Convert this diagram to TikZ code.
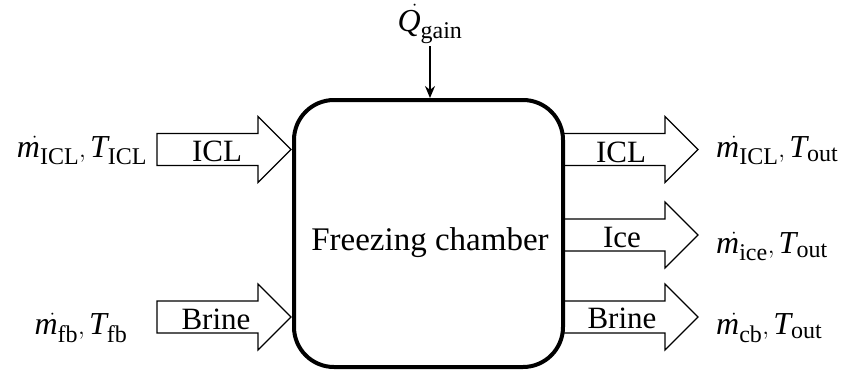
\documentclass[tikz,border=0pt]{standalone}
\usepackage{fontspec}
\setmainfont{Liberation Serif}
\usetikzlibrary{arrows.meta}
% larger subscripts for the stream symbols
\DeclareMathSizes{32}{32}{24}{18}

\tikzset{
  x=1pt, y=-1pt,
  flowline/.style={draw=black, line width=1.2pt, fill=white, line join=miter},
  flowtext/.style={font=\fontsize{31}{31}\selectfont, inner sep=0pt, anchor=base},
  mathlbl/.style={font=\fontsize{32}{32}\selectfont, inner sep=0pt},
  chamber/.style={draw=black, line width=4pt, rounded corners=40pt,
    minimum width=269pt, minimum height=267pt, inner sep=0pt},
  % block arrow: shaft from the local origin, head ending #1 to the right
  pics/flowarrow/.style={code={
    \path[flowline] (0,-16) -- ({#1-33},-16) -- ({#1-33},-33) -- (#1,0)
      -- ({#1-33},33) -- ({#1-33},16) -- (0,16) -- cycle;
    \coordinate (-tail) at (0,0);
    \coordinate (-tip) at (#1,0);
  }}
}
\newcommand\mflow[1]{\skew{9}{\dot}{\mathit{m}}_{\mathrm{#1}}}
\newcommand\tflow[1]{\mathit{T}_{\mathrm{#1}}}

\begin{document}
\begin{tikzpicture}
\useasboundingbox (0,0) rectangle (857,378);

% inlet streams
\pic (inICL) at (157,149.5) {flowarrow=134};
\pic (inBrine) at (157,317) {flowarrow=134};

% outlet streams
\pic (outICL) at (563,149.5) {flowarrow=135};
\pic (outIce) at (563,235) {flowarrow=135};
\pic (outBrine) at (563,317) {flowarrow=135};

% chamber
\node[chamber] (box) at (428.5,233.5) {};
\node[font=\fontsize{33}{33}\selectfont, inner sep=0pt, anchor=base] (boxlbl) at (430,250) {Freezing chamber};

% stream names inside the block arrows
\node[flowtext] (tICLin) at (217,161) {ICL};
\node[flowtext] (tBrinein) at (216,329) {Brine};
\node[flowtext] (tICLout) at (621,162) {ICL};
\node[flowtext] (tIce) at (622,247) {Ice};
\node[flowtext] (tBrineout) at (622,328) {Brine};

% stream properties
\node[mathlbl, anchor=base] (lICLin) at (82,157) {$\mflow{ICL}, \tflow{ICL}$};
\node[mathlbl, anchor=base] (lfb) at (81,334) {$\mflow{fb}, \tflow{fb}$};
\node[mathlbl, anchor=base west] (lICLout) at (716,157) {$\mflow{ICL}, \tflow{out}$};
\node[mathlbl, anchor=base west] (lice) at (716,253) {$\mflow{ice}, \tflow{out}$};
\node[mathlbl, anchor=base west] (lcb) at (716,334) {$\mflow{cb}, \tflow{out}$};

% heat gain
\node[mathlbl, anchor=base] (qgain) at (430,31) {$\skew{8}{\dot}{\mathit{Q}}_{\mathrm{gain}}$};
\coordinate (qtail) at (430,46);
\draw[line width=1.5pt, -{Stealth[length=12pt,width=10pt]}] (qtail) -- (qtail |- box.north);
\end{tikzpicture}
\end{document}
